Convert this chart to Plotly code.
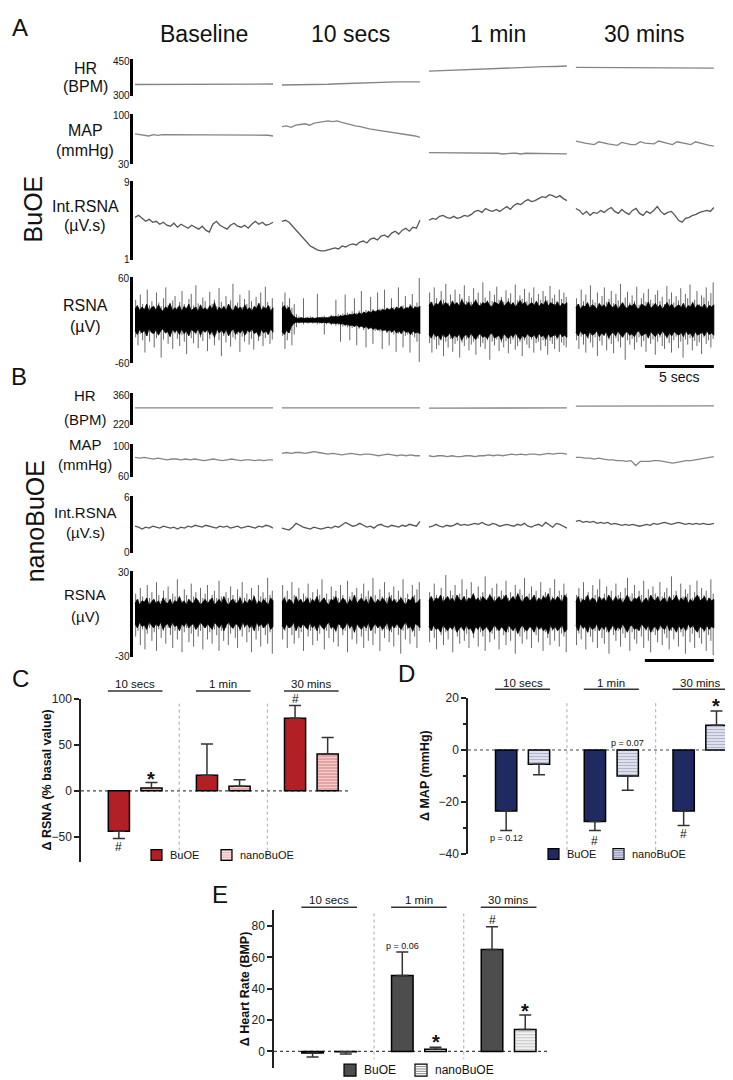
import numpy as np
import plotly.graph_objects as go

W, H = 733, 1080
FONT = "Arial, 'Liberation Sans', Helvetica, sans-serif"


def fx(x):
    return x / W


def fy(y):
    return 1 - y / H


def axkey(prefix, n):
    return prefix if n == 1 else f"{prefix}{n}"


# ------------------------------------------------------------------
# Panel A / B : recording traces (4 segments each)
# ------------------------------------------------------------------
SEGMENTS = ["Baseline", "10 secs", "1 min", "30 mins"]
SEG_START = [0.0, 10.65, 21.3, 31.95]
SEG_LEN = 10.0
X_RANGE = [-0.145, 42.25]
SCALE_SEC = 5

HR_A = [
    [347, 347, 348, 347, 348, 347, 347, 348, 348, 347, 348, 349, 349],
    [345, 345, 346, 347, 348, 350, 352, 354, 356, 357, 358, 358, 358],
    [402, 404, 406, 407, 409, 411, 413, 414, 416, 418, 420, 421, 423],
    [417, 417, 416, 416, 417, 416, 415, 416, 415, 415, 414, 415, 414],
]
MAP_A = [
    [72, 71, 71, 69, 71, 70, 71, 71, 70, 71, 71, 70, 71, 70, 71, 71, 70, 71, 70, 71, 70, 71, 71, 70, 71, 70, 71, 70, 70, 70, 69],
    [82, 83, 81, 84, 85, 86, 84, 87, 88, 89, 90, 89, 90, 88, 86, 84, 83, 82, 80, 79, 78, 77, 76, 76, 75, 73, 72, 71, 70, 69, 67],
    [46, 46, 45, 45, 46, 45, 45, 46, 45, 45, 46, 45, 45, 45, 46, 45, 44, 45, 45, 45, 44, 45, 45, 44, 45, 44, 45, 44, 44, 45, 44],
    [62, 60, 59, 58, 57, 61, 59, 58, 57, 56, 60, 58, 57, 57, 61, 59, 58, 58, 62, 60, 58, 57, 61, 60, 58, 57, 61, 59, 58, 56, 55],
]
INT_A = [
    [5.3, 5.5, 5.2, 4.9, 5.1, 4.8, 4.9, 4.6, 4.8, 4.5, 4.4, 4.7, 4.3, 4.6, 4.4, 4.2, 4.5, 4.3, 4.1, 4.4,
     4.0, 3.8, 4.6, 4.9, 4.5, 4.3, 4.1, 4.5, 4.7, 4.4, 4.3, 4.5, 4.2, 4.6, 4.9, 4.6, 4.8, 4.5, 4.6, 4.8],
    [4.9, 5.0, 4.8, 4.4, 4.0, 3.5, 3.1, 2.7, 2.4, 2.2, 2.0, 1.9, 1.9, 2.0, 2.1, 2.2, 2.1, 2.4, 2.3, 2.5,
     2.6, 2.5, 2.8, 2.9, 2.7, 3.1, 3.2, 3.0, 3.4, 3.5, 3.3, 3.7, 3.9, 3.6, 4.0, 4.2, 3.9, 4.3, 4.2, 5.0],
    [5.0, 5.2, 5.1, 5.4, 5.5, 5.3, 5.2, 5.4, 5.2, 5.3, 5.5, 5.4, 5.6, 5.9, 6.0, 5.8, 6.2, 6.0, 5.9, 6.1,
     5.9, 6.2, 6.4, 6.1, 6.5, 6.7, 6.6, 6.9, 7.1, 6.9, 7.0, 7.2, 7.4, 7.3, 7.6, 7.5, 7.3, 7.5, 7.2, 7.0],
    [6.2, 6.0, 5.6, 5.9, 5.5, 5.8, 5.7, 6.0, 5.8, 6.1, 6.3, 5.9, 5.7, 6.1, 5.8, 5.6, 6.0, 6.2, 5.7, 5.5,
     5.9, 5.7, 6.0, 6.4, 5.9, 5.6, 5.8, 5.9, 5.5, 5.0, 4.8, 5.2, 5.3, 5.5, 5.6, 5.8, 5.9, 6.0, 5.9, 6.3],
]
RSNA_A_UP = [
    [28, 18, 35, 22, 15, 42, 20, 26, 17, 38, 24, 19, 30, 45, 21, 16, 27, 33, 18, 25, 40, 22, 17, 29, 36, 20, 48, 23, 18, 31,
     26, 16, 39, 22, 28, 19, 44, 25, 17, 33, 21, 27, 50, 19, 24, 35, 18, 29, 22, 41, 26, 17, 32, 23, 38, 20, 46, 25, 19, 30],
    [25, 38, 20, 30, 17, 22, 8, 5, 4, 30, 4, 3, 5, 4, 3, 36, 4, 5, 6, 4, 5, 7, 6, 28, 8, 7, 9, 35, 10, 8,
     12, 30, 10, 13, 40, 11, 14, 12, 32, 15, 13, 38, 16, 14, 42, 17, 15, 30, 18, 16, 45, 17, 20, 33, 18, 22, 36, 19, 24, 58],
    [38, 25, 45, 30, 22, 40, 28, 50, 24, 35, 27, 42, 23, 36, 30, 48, 26, 33, 25, 44, 29, 38, 24, 52, 31, 27, 40, 26, 35, 46,
     28, 32, 25, 41, 30, 37, 24, 49, 27, 34, 29, 43, 26, 38, 31, 45, 25, 36, 28, 40, 33, 27, 47, 30, 35, 26, 42, 29, 38, 32],
    [30, 22, 42, 26, 35, 20, 48, 28, 24, 38, 21, 33, 45, 25, 29, 40, 23, 36, 27, 50, 22, 31, 39, 24, 34, 26, 46, 21, 30, 37,
     25, 43, 28, 23, 35, 41, 26, 32, 22, 47, 29, 38, 24, 33, 27, 44, 23, 36, 30, 49, 25, 28, 40, 22, 34, 31, 45, 26, 37, 52],
]
RSNA_A_DN = [
    [24, 35, 19, 28, 45, 22, 30, 17, 38, 25, 20, 52, 27, 18, 33, 23, 40, 19, 26, 36, 21, 30, 47, 18, 25, 32, 20, 39, 24, 29,
     17, 43, 26, 21, 35, 19, 28, 50, 22, 31, 18, 37, 24, 27, 20, 44, 23, 30, 19, 34, 26, 41, 18, 29, 22, 36, 25, 20, 33, 27],
    [22, 40, 28, 18, 35, 20, 10, 5, 4, 6, 4, 5, 3, 5, 4, 6, 5, 4, 20, 6, 5, 7, 6, 8, 7, 30, 9, 8, 10, 28,
     11, 9, 35, 12, 10, 14, 38, 13, 12, 33, 15, 14, 16, 40, 15, 18, 35, 17, 20, 44, 19, 18, 38, 22, 20, 45, 21, 24, 30, 58],
    [32, 45, 27, 40, 35, 28, 50, 30, 38, 26, 44, 33, 29, 52, 31, 36, 27, 42, 34, 30, 48, 26, 37, 32, 40, 28, 55, 30, 35, 27,
     43, 31, 38, 29, 46, 33, 27, 41, 36, 30, 50, 28, 34, 39, 27, 45, 32, 30, 42, 28, 36, 48, 29, 33, 40, 27, 44, 31, 35, 38],
    [28, 40, 23, 34, 45, 26, 31, 38, 24, 50, 29, 35, 22, 42, 27, 33, 46, 25, 30, 38, 23, 55, 28, 34, 26, 41, 31, 24, 37, 29,
     44, 25, 33, 27, 48, 30, 24, 36, 40, 26, 32, 45, 28, 23, 39, 30, 52, 27, 34, 25, 42, 29, 36, 31, 47, 24, 33, 28, 38, 26],
]
RSNA_A_CORE = [
    [15, 20, 13, 18, 14, 22, 12, 17, 19, 13, 21, 15, 12, 18, 16, 23, 13, 17, 14, 20, 12, 19, 15, 22, 13, 16, 18, 12, 21, 14,
     17, 13, 20, 15, 24, 12, 18, 14, 19, 13, 22, 16, 12, 20, 15, 18, 13, 21, 14, 17, 12, 19, 16, 23, 13, 18, 15, 20, 12, 17],
    [16, 20, 14, 18, 9, 5, 3, 2, 3, 2, 2, 3, 2, 3, 2, 3, 3, 4, 3, 4, 3, 5, 4, 5, 4, 6, 5, 7, 6, 8,
     7, 9, 7, 10, 8, 11, 9, 12, 10, 13, 11, 14, 12, 15, 13, 16, 14, 17, 13, 18, 15, 19, 14, 17, 16, 20, 15, 18, 17, 19],
    [20, 25, 18, 23, 21, 27, 19, 24, 22, 18, 26, 21, 24, 19, 28, 22, 20, 25, 18, 23, 27, 21, 19, 24, 22, 26, 20, 18, 25, 23,
     21, 28, 19, 22, 26, 20, 24, 18, 23, 27, 21, 25, 19, 22, 24, 20, 26, 18, 23, 21, 27, 19, 24, 22, 20, 25, 18, 23, 21, 24],
    [17, 22, 15, 20, 18, 24, 16, 21, 19, 15, 23, 18, 21, 16, 25, 19, 17, 22, 15, 20, 24, 18, 16, 21, 19, 23, 17, 15, 22, 20,
     18, 25, 16, 19, 23, 17, 21, 15, 20, 24, 18, 22, 16, 19, 21, 17, 23, 15, 20, 18, 24, 16, 21, 19, 17, 22, 15, 20, 18, 21],
]

HR_B = [
    [294, 294, 295, 294, 294, 294, 293, 294, 294, 294, 294, 294, 294],
    [294, 294, 294, 293, 294, 294, 294, 294, 294, 294, 293, 294, 294],
    [293, 293, 293, 294, 293, 293, 293, 294, 293, 293, 294, 294, 294],
    [302, 302, 303, 302, 303, 303, 302, 303, 303, 303, 303, 302, 303],
]
MAP_B = [
    [84, 83, 84, 83, 82, 83, 82, 81, 82, 82, 81, 82, 81, 82, 81, 80, 81, 82, 81, 80, 81, 82, 81, 80, 81, 81, 80, 81, 80, 81, 81],
    [89, 90, 89, 90, 90, 89, 90, 91, 90, 89, 88, 89, 88, 87, 88, 89, 88, 87, 88, 88, 87, 86, 87, 88, 87, 86, 87, 86, 87, 86, 86],
    [86, 85, 86, 86, 85, 86, 85, 85, 86, 86, 85, 86, 86, 87, 86, 87, 86, 87, 88, 87, 88, 87, 88, 88, 87, 88, 89, 88, 89, 89, 88],
    [84, 84, 83, 83, 82, 83, 82, 81, 81, 80, 80, 79, 80, 74, 79, 79, 79, 80, 80, 79, 78, 77, 78, 79, 80, 80, 81, 82, 83, 84, 85],
]
INT_B = [
    [2.8, 2.7, 2.5, 2.7, 2.6, 2.8, 2.7, 2.6, 2.8, 2.7, 2.6, 2.7, 2.5, 2.7, 2.6, 2.8, 2.7, 2.9, 2.8, 2.7,
     2.9, 2.8, 2.7, 2.6, 2.8, 2.7, 2.8, 2.6, 2.7, 2.8, 2.6, 2.7, 2.8, 2.7, 2.6, 2.8, 2.7, 2.9, 2.8, 2.6],
    [2.6, 2.5, 2.4, 2.7, 3.1, 2.9, 2.7, 2.6, 2.5, 2.7, 2.6, 2.5, 2.6, 2.7, 2.6, 2.8, 2.7, 3.0, 3.2, 3.0,
     2.8, 2.9, 3.1, 2.9, 2.7, 2.8, 2.6, 2.9, 3.0, 2.8, 2.7, 2.9, 2.8, 2.7, 2.9, 2.8, 3.0, 2.9, 2.8, 3.3],
    [2.7, 2.8, 3.0, 2.8, 2.7, 2.9, 2.8, 2.9, 3.1, 2.9, 3.0, 2.9, 3.0, 3.1, 3.0, 3.2, 3.0, 2.9, 3.1, 3.0,
     2.8, 2.9, 3.0, 2.9, 2.8, 3.0, 2.9, 3.1, 2.8, 2.7, 2.9, 3.0, 2.8, 3.2, 2.9, 2.7, 3.1, 3.0, 2.8, 2.6],
    [3.3, 3.4, 3.2, 3.3, 3.2, 3.3, 3.1, 3.2, 3.1, 3.2, 3.0, 3.1, 3.0, 2.9, 3.0, 2.9, 3.0, 2.9, 2.8, 2.9,
     3.0, 2.9, 3.1, 3.0, 3.1, 3.2, 3.1, 3.0, 3.1, 3.2, 3.1, 3.0, 3.1, 3.0, 3.1, 3.0, 3.1, 3.0, 3.0, 3.1],
]
RSNA_B_UP = [
    [14, 10, 18, 12, 9, 20, 11, 15, 10, 22, 13, 9, 16, 11, 19, 10, 14, 12, 24, 11, 9, 17, 13, 10, 21, 12, 15, 9, 18, 11,
     14, 20, 10, 13, 16, 11, 23, 12, 9, 15, 11, 19, 13, 10, 17, 12, 22, 11, 14, 10, 18, 13, 9, 20, 12, 15, 11, 25, 13, 16],
    [20, 12, 16, 10, 22, 13, 11, 18, 10, 14, 12, 21, 11, 15, 10, 17, 13, 24, 11, 14, 10, 19, 12, 16, 11, 20, 13, 10, 23, 12,
     15, 11, 18, 10, 14, 21, 12, 16, 11, 25, 13, 10, 17, 12, 22, 11, 15, 13, 19, 10, 16, 12, 24, 11, 14, 10, 20, 13, 17, 22],
    [15, 11, 21, 13, 10, 18, 12, 27, 11, 16, 13, 20, 10, 14, 24, 12, 17, 11, 22, 13, 10, 19, 12, 15, 26, 11, 14, 18, 12, 21,
     10, 16, 13, 23, 11, 15, 12, 20, 10, 17, 13, 25, 11, 14, 19, 12, 16, 10, 22, 13, 15, 11, 18, 12, 24, 10, 16, 13, 21, 14],
    [13, 18, 11, 22, 12, 15, 10, 20, 13, 17, 24, 11, 14, 19, 12, 16, 10, 21, 13, 15, 11, 18, 25, 12, 14, 20, 10, 16, 13, 23,
     11, 17, 12, 19, 14, 10, 22, 12, 15, 18, 11, 26, 13, 16, 10, 21, 12, 17, 14, 20, 11, 15, 23, 12, 18, 13, 16, 11, 24, 14],
]
RSNA_B_DN = [
    [16, 12, 22, 11, 25, 14, 10, 19, 13, 26, 11, 17, 12, 21, 10, 15, 24, 12, 18, 11, 27, 13, 10, 20, 14, 23, 11, 16, 12, 25,
     10, 18, 13, 21, 11, 15, 26, 12, 19, 10, 22, 14, 11, 17, 24, 12, 16, 10, 20, 13, 27, 11, 18, 12, 23, 10, 15, 21, 13, 28],
    [18, 12, 24, 10, 15, 21, 11, 17, 13, 26, 10, 16, 12, 22, 11, 19, 14, 10, 25, 12, 17, 11, 20, 13, 23, 10, 15, 12, 27, 11,
     18, 13, 21, 10, 16, 24, 12, 19, 11, 22, 14, 10, 26, 12, 17, 11, 20, 13, 23, 10, 15, 28, 12, 18, 11, 21, 13, 16, 24, 12],
    [20, 12, 17, 25, 11, 15, 22, 13, 18, 10, 27, 12, 16, 21, 11, 19, 14, 24, 12, 17, 10, 23, 13, 16, 26, 11, 20, 14, 18, 12,
     25, 10, 15, 22, 13, 19, 11, 28, 12, 16, 21, 13, 18, 10, 24, 12, 15, 20, 11, 26, 13, 17, 22, 12, 19, 10, 23, 14, 16, 27],
    [22, 14, 18, 11, 25, 13, 16, 20, 12, 24, 10, 17, 21, 13, 28, 11, 15, 19, 12, 23, 14, 17, 10, 26, 13, 18, 21, 11, 16, 24,
     12, 19, 27, 13, 15, 20, 11, 22, 14, 17, 25, 12, 18, 10, 23, 13, 16, 28, 11, 20, 14, 24, 12, 17, 21, 13, 26, 15, 19, 29],
]
RSNA_B_CORE = [
    [7, 10, 6, 9, 8, 11, 6, 8, 10, 7, 9, 6, 11, 8, 7, 10, 6, 9, 8, 12, 7, 9, 6, 10, 8, 7, 11, 9, 6, 8,
     10, 7, 9, 11, 6, 8, 10, 7, 12, 8, 6, 9, 10, 7, 8, 11, 6, 9, 7, 10, 8, 12, 6, 9, 7, 10, 8, 6, 11, 9],
    [8, 11, 7, 10, 9, 6, 12, 8, 10, 7, 9, 11, 6, 10, 8, 12, 7, 9, 11, 8, 6, 10, 9, 12, 7, 8, 11, 9, 6, 10,
     8, 13, 7, 9, 11, 8, 10, 6, 12, 9, 7, 10, 8, 11, 9, 6, 12, 8, 10, 7, 9, 11, 8, 6, 10, 9, 12, 7, 8, 10],
    [9, 12, 8, 11, 10, 13, 8, 10, 12, 9, 11, 8, 13, 10, 9, 12, 8, 11, 10, 14, 9, 11, 8, 12, 10, 9, 13, 11, 8, 10,
     12, 9, 11, 13, 8, 10, 12, 9, 14, 10, 8, 11, 12, 9, 10, 13, 8, 11, 9, 12, 10, 14, 8, 11, 9, 12, 10, 8, 13, 11],
    [8, 12, 7, 10, 9, 13, 8, 11, 10, 7, 12, 9, 11, 8, 13, 10, 8, 12, 9, 11, 7, 10, 13, 9, 8, 11, 10, 12, 7, 9,
     11, 8, 13, 10, 9, 12, 8, 10, 11, 7, 12, 9, 10, 13, 8, 11, 9, 12, 7, 10, 8, 11, 13, 9, 10, 12, 8, 11, 9, 10],
]

# ------------------------------------------------------------------
# Panels C, D, E : summary bars
# ------------------------------------------------------------------
GROUPS = ["10 secs", "1 min", "30 mins"]
SERIES = ["BuOE", "nanoBuOE"]

C_BUOE = [-44, 17, 79]
C_BUOE_ERR = [8, 34, 14]
C_NANO = [3, 5, 40]
C_NANO_ERR = [6, 7, 18]

D_BUOE = [-23.5, -27.5, -23.5]
D_BUOE_ERR = [7.5, 3.5, 5.5]
D_NANO = [-5.5, -10, 9.5]
D_NANO_ERR = [4, 5.5, 5.5]

E_BUOE = [-1, 48.5, 65]
E_BUOE_ERR = [2.5, 15, 14.5]
E_NANO = [-0.3, 1.3, 14]
E_NANO_ERR = [1.4, 1.3, 9.3]

fig = go.Figure()
layout = dict(
    width=W, height=H, margin=dict(l=0, r=0, t=0, b=0),
    paper_bgcolor="white", plot_bgcolor="white", showlegend=False,
    barmode="overlay", font=dict(family=FONT, color="#111"),
)
ann = []
shapes = []


def text(x, y, s, size, xref="paper", yref="paper", xa="center", ya="middle", angle=0, bold=False, color="#111"):
    if xref == "paper":
        x = fx(x)
    if yref == "paper":
        y = fy(y)
    ann.append(dict(x=x, y=y, xref=xref, yref=yref, text=f"<b>{s}</b>" if bold else s,
                    showarrow=False, xanchor=xa, yanchor=ya, textangle=angle,
                    font=dict(size=size, family=FONT, color=color)))


# --------------------- trace rows ---------------------
ROWS = [
    # label1, label2, range, top px, bottom px, label y px, data, kind, color
    ("HR", "(BPM)", (300, 450), 45, 82, (54, 72), HR_A, "line", "#858585"),
    ("MAP", "(mmHg)", (30, 100), 100, 151, (117, 137), MAP_A, "line", "#858585"),
    ("Int.RSNA", "(µV.s)", (1, 9), 168, 248, (194, 213), INT_A, "line", "#555555"),
    ("RSNA", "(µV)", (-60, 60), 265, 353, (294, 316), (RSNA_A_UP, RSNA_A_DN, RSNA_A_CORE), "raw", "#6a6a6a"),
    ("HR", "(BPM)", (220, 360), 383, 415, (385, 410), HR_B, "line", "#858585"),
    ("MAP", "(mmHg)", (60, 100), 435, 468, (435, 455), MAP_B, "line", "#858585"),
    ("Int.RSNA", "(µV.s)", (0, 6), 487, 545, (504, 524), INT_B, "line", "#555555"),
    ("RSNA", "(µV)", (-30, 30), 563, 650, (587, 609), (RSNA_B_UP, RSNA_B_DN, RSNA_B_CORE), "raw", "#6a6a6a"),
]

for i, (l1, l2, rng, top, bot, ly, data, kind, col) in enumerate(ROWS):
    n = i + 1
    xr, yr = axkey("x", n), axkey("y", n)
    layout[axkey("xaxis", n)] = dict(domain=[fx(125), fx(710)], range=X_RANGE, visible=False,
                                     anchor=yr, fixedrange=True)
    layout[axkey("yaxis", n)] = dict(domain=[fy(bot), fy(top)], range=list(rng), showline=True,
                                     linewidth=3, linecolor="black", ticks="", showticklabels=False,
                                     showgrid=False, zeroline=False, anchor=xr, fixedrange=True)
    if kind == "line":
        xs, ys = [], []
        for k, seg in enumerate(data):
            t = SEG_START[k] + np.linspace(0, SEG_LEN, len(seg))
            xs += list(t) + [None]
            ys += list(seg) + [None]
        fig.add_trace(go.Scatter(x=xs, y=ys, mode="lines", line=dict(color=col, width=1.3),
                                 xaxis=xr, yaxis=yr, hoverinfo="skip"))
    else:
        up, dn, core = data
        xs, ys, cx, cy = [], [], [], []
        for k in range(4):
            t = SEG_START[k] + np.linspace(0.05, SEG_LEN - 0.05, len(up[k]))
            for ti, u, d in zip(t, up[k], dn[k]):
                xs += [ti, ti, None]
                ys += [-d, u, None]
            tc = SEG_START[k] + np.linspace(0, SEG_LEN, len(core[k]))
            cx += list(tc) + list(tc[::-1]) + [None]
            cy += list(core[k]) + [-c for c in core[k][::-1]] + [None]
        fig.add_trace(go.Scatter(x=xs, y=ys, mode="lines", line=dict(color=col, width=1),
                                 xaxis=xr, yaxis=yr, hoverinfo="skip"))
        fig.add_trace(go.Scatter(x=cx, y=cy, mode="lines", fill="toself", fillcolor="black",
                                 line=dict(color="black", width=0.8), xaxis=xr, yaxis=yr, hoverinfo="skip"))
    # row labels and end tick labels
    lsize = 15 if i >= 4 else 16
    text(77, ly[0], l1, lsize)
    text(77, ly[1], l2, lsize)
    text(123.5, top + 2, str(rng[1]), 10, xa="right")
    text(123.5, bot, str(rng[0]), 10, xa="right")

# column titles
for k, name in enumerate(SEGMENTS):
    text(SEG_START[k] + SEG_LEN / 2, 19, name, 23, xref="x")

# scale bars
for n, ybar in ((4, 356), (8, 654)):
    shapes.append(dict(type="line", xref=axkey("x", n), yref="paper",
                       x0=SEG_START[3] + SEG_LEN - SCALE_SEC, x1=SEG_START[3] + SEG_LEN,
                       y0=fy(ybar), y1=fy(ybar), line=dict(color="black", width=3)))
text(SEG_START[3] + SEG_LEN - SCALE_SEC / 2, 367, f"{SCALE_SEC} secs", 14, xref="x4")

text(12, 13, "A", 24)
text(11, 366, "B", 24)
text(25, 197, "BuOE", 25, angle=-90)
text(27, 513, "nanoBuOE", 25, angle=-90)

# --------------------- bar panels ---------------------
OFF = 0.185
BW = 0.24
XR = [0.385, 3.45]


def swatch(x0, yc, size, fill, stripe=None):
    shapes.append(dict(type="rect", xref="paper", yref="paper", x0=fx(x0), x1=fx(x0 + size),
                       y0=fy(yc + size / 2), y1=fy(yc - size / 2),
                       fillcolor=fill, line=dict(color="black", width=1.2)))
    if stripe:
        for j in range(1, 5):
            yy = yc - size / 2 + j * size / 5
            shapes.append(dict(type="line", xref="paper", yref="paper", x0=fx(x0 + 1), x1=fx(x0 + size - 1),
                               y0=fy(yy), y1=fy(yy), line=dict(color=stripe, width=1)))


def bar_panel(n, xdom, ydom, yrng, tickvals, minor, buoe, buoe_err, nano, nano_err,
              col_b, nano_pat, ytitle, title_x, head_y, line_y, sep_rng, legend, marks, letter):
    xr, yr = axkey("x", n), axkey("y", n)
    layout[axkey("xaxis", n)] = dict(domain=[fx(xdom[0]), fx(xdom[1])], range=XR, visible=False,
                                     anchor=yr, fixedrange=True)
    ya = dict(domain=[fy(ydom[1]), fy(ydom[0])], range=list(yrng), showline=True, linewidth=1.5,
              linecolor="#222", ticks="outside", ticklen=5, tickwidth=1.5, tickcolor="#222",
              tickvals=tickvals, tickfont=dict(size=12, family=FONT, color="#222"),
              showgrid=False, zeroline=False, anchor=xr, fixedrange=True)
    if minor:
        ya["minor"] = dict(tickvals=minor, ticks="outside", ticklen=3, tickwidth=1.5,
                           tickcolor="#222", showgrid=False)
    layout[axkey("yaxis", n)] = ya
    g = np.arange(1, len(GROUPS) + 1)
    for vals, errs, xpos, marker in (
        (buoe, buoe_err, g - OFF, dict(color=col_b, line=dict(color="black", width=1.5))),
        (nano, nano_err, g + OFF, dict(color=nano_pat["bg"], line=dict(color="black", width=1.5),
                                      pattern=dict(shape="-", fgcolor=nano_pat["fg"],
                                                   size=3, solidity=nano_pat["sol"], fillmode="overlay"))),
    ):
        plus = [e if v >= 0 else 0 for v, e in zip(vals, errs)]
        minus = [e if v < 0 else 0 for v, e in zip(vals, errs)]
        fig.add_trace(go.Bar(x=xpos, y=vals, width=BW, marker=marker, xaxis=xr, yaxis=yr,
                             error_y=dict(type="data", symmetric=False, array=plus, arrayminus=minus,
                                          color="#333", thickness=1.5, width=6),
                             hoverinfo="skip"))
    # zero line and separators
    shapes.append(dict(type="line", xref=xr, yref=yr, x0=XR[0], x1=XR[1], y0=0, y1=0,
                       line=dict(color="#444", width=1.2, dash="dot"), layer="below"))
    for s in (1.5, 2.5):
        shapes.append(dict(type="line", xref=xr, yref=yr, x0=s, x1=s, y0=sep_rng[0], y1=sep_rng[1],
                           line=dict(color="#aaa", width=1, dash="dot"), layer="below"))
    # group headers
    for gi, name in enumerate(GROUPS):
        text(gi + 1, head_y, name, 11.5, xref=xr)
        shapes.append(dict(type="line", xref=xr, yref="paper", x0=gi + 1 - 0.31, x1=gi + 1 + 0.31,
                           y0=fy(line_y), y1=fy(line_y), line=dict(color="#333", width=1.5)))
    # y title
    text(title_x, (ydom[0] + ydom[1]) / 2, ytitle, 12.5, angle=-90, bold=True)
    # significance marks
    for s, gi, side, yv, size, bold in marks:
        text(gi + 1 + side * OFF, yv, s, size, xref=xr, yref=yr, bold=bold)
    # legend
    (bx, nx, ly, sz, fs) = legend
    swatch(bx, ly, sz, col_b)
    text(bx + sz + 6, ly, SERIES[0], fs, xa="left")
    swatch(nx, ly, sz, nano_pat["bg"], stripe=nano_pat["sw"])
    text(nx + sz + 6, ly, SERIES[1], fs, xa="left")
    text(letter[1], letter[2], letter[0], 24)


bar_panel(9, (73, 343), (693, 858), (-77.4, 100), [-50, 0, 50, 100], None,
          C_BUOE, C_BUOE_ERR, C_NANO, C_NANO_ERR, "#b22025",
          dict(bg="#e6a4a4", fg="#ffffff", sol=0.3, sw="#ffffff"),
          "Δ RSNA (% basal value)", 39, 678, 685, (95, -72),
          (143, 213, 851, 11, 11),
          [("#", 0, -1, -61, 12, False), ("*", 0, 1, 13, 20, True), ("#", 2, -1, 100, 12, False)],
          ("C", 12, 672))

bar_panel(10, (460, 732), (692, 850), (-40, 20), [-40, -20, 0, 20], [-30, -10, 10],
          D_BUOE, D_BUOE_ERR, D_NANO, D_NANO_ERR, "#1f2a63",
          dict(bg="#eef0f6", fg="#6f78a6", sol=0.5, sw="#6f78a6"),
          "Δ MAP (mmHg)", 417, 677, 683, (18, -40),
          (540, 605, 850, 11, 11),
          [("p = 0.12", 0, -1, -34, 9, False), ("#", 1, -1, -35, 12, False),
           ("p = 0.07", 1, 1, 2.6, 9, False), ("#", 2, -1, -32.5, 12, False), ("*", 2, 1, 17, 20, True)],
          ("D", 398, 667))

bar_panel(11, (266, 541), (907, 1067), (-10.7, 90.1), [0, 20, 40, 60, 80], None,
          E_BUOE, E_BUOE_ERR, E_NANO, E_NANO_ERR, "#4d4d4d",
          dict(bg="#ffffff", fg="#8c8c8c", sol=0.5, sw="#8c8c8c"),
          "Δ Heart Rate (BMP)", 237, 897, 904, (88, -5),
          (336, 407, 1069, 12, 12),
          [("p = 0.06", 1, -1, 67, 9, False), ("*", 1, 1, 6, 20, True),
           ("#", 2, -1, 84, 12, False), ("*", 2, 1, 26, 20, True)],
          ("E", 212, 891))

layout["annotations"] = ann
layout["shapes"] = shapes
fig.update_layout(**layout)
fig.write_html("out.html")
